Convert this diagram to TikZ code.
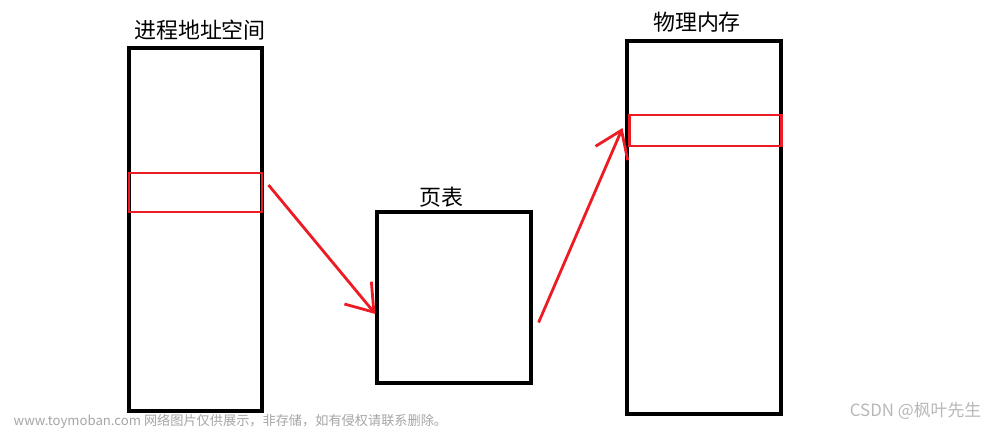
\documentclass[tikz,border=0pt]{standalone}
\usepackage{fontspec}
\newfontfamily\cjk{Noto Sans CJK SC}
\usetikzlibrary{arrows.meta}
\definecolor{penred}{RGB}{237,28,36}
\definecolor{markgray}{RGB}{165,165,165}

\begin{document}
\begin{tikzpicture}[
    memblock/.style={draw=black, line width=1.8pt, minimum width=#1},
    hilite/.style={draw=penred, line width=1.7pt},
    pen/.style={draw=penred, line width=1.6pt, -{Straight Barb[length=5mm,width=7mm,line width=1.6pt]}},
    caption/.style={font=\cjk\fontsize{12.5}{14}\selectfont}
  ]
  \useasboundingbox (0,0) rectangle (20,-8.6);

  % the three blocks
  \node [memblock=2.66cm, minimum height=7.26cm] (addr) at (3.91,-4.59) {};
  \node [memblock=3.08cm, minimum height=3.42cm] (pgtab) at (9.08,-5.95) {};
  \node [memblock=3.08cm, minimum height=7.46cm] (phys) at (14.08,-4.55) {};

  % one page in each memory
  \node [hilite, minimum width=2.66cm, minimum height=0.78cm] (addrpage) at (3.91,-3.85) {};
  \node [hilite, minimum width=3.04cm, minimum height=0.62cm] (physpage) at (14.10,-2.61) {};

  \node [caption] (addrlbl) at (4.00,-0.60) {进程地址空间};
  \node [caption] (pglbl) at (8.82,-3.94) {页表};
  \node [caption] (physlbl) at (13.94,-0.44) {物理内存};

  % mapping
  \draw [pen] ([shift={(0.1,0.15)}]addrpage.east) -- ([yshift=-0.33cm]pgtab.west);
  \draw [pen] ([shift={(0.12,-0.5)}]pgtab.east) -- ([shift={(-0.1,0.05)}]physpage.west);

  \node [font=\cjk\fontsize{7.5}{9}\selectfont, text=markgray, anchor=west] (wm) at (0.15,-8.42) {www.toymoban.com 网络图片仅供展示，非存储，如有侵权请联系删除。};
  \node [font=\cjk\fontsize{9.6}{12}\selectfont, text=markgray!80, anchor=east] (csdn) at (19.75,-8.22) {CSDN @枫叶先生};
\end{tikzpicture}
\end{document}
